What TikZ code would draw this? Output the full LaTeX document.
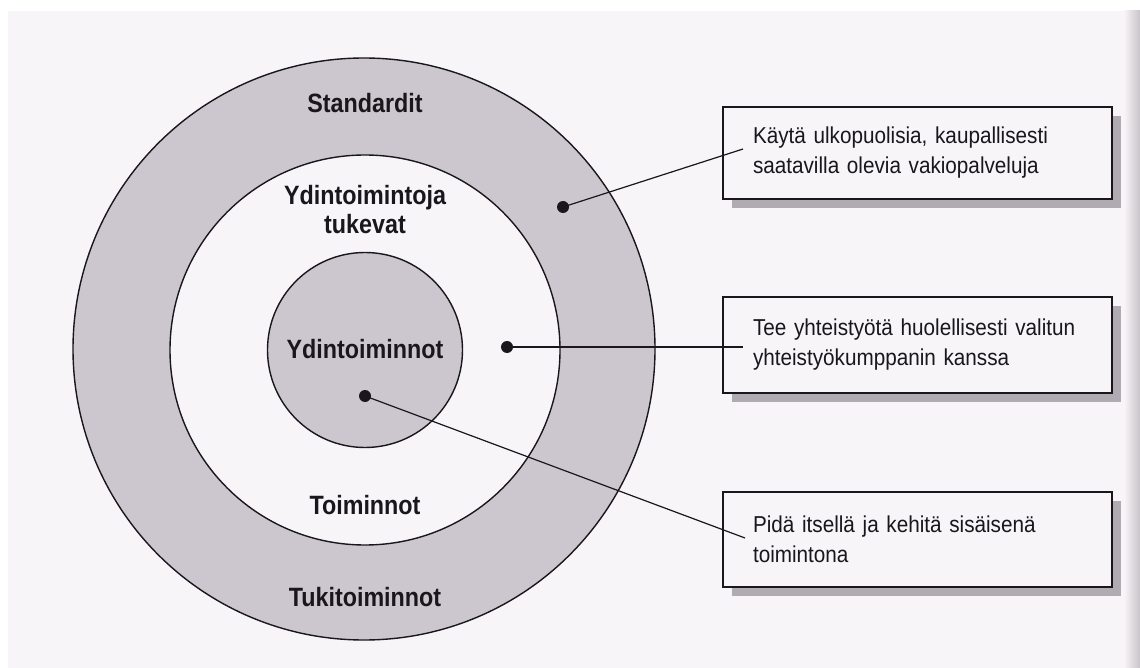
\documentclass[tikz,border=0pt]{standalone}
\usepackage{fontspec}
\setmainfont{Liberation Sans}
\newfontfamily\labelfont{Liberation Sans}[FakeStretch=0.88]
\newfontfamily\boxfont{Liberation Sans}[FakeStretch=0.9]
\usetikzlibrary{shadows}
\definecolor{paper}{RGB}{247,245,247}
\definecolor{ring}{RGB}{204,199,207}
\definecolor{shade}{RGB}{176,170,178}
\definecolor{ink}{RGB}{25,22,28}

\begin{document}
\begin{tikzpicture}[x=1pt,y=-1pt,
  ringfill/.style={circle, draw=ink, line width=1.4pt, inner sep=0pt},
  dot/.style={circle, fill=ink, inner sep=0pt, minimum size=12pt},
  lbl/.style={font=\labelfont\bfseries\fontsize{26.5}{29}\selectfont, text=ink,
    anchor=base, inner sep=0pt},
  infobox/.style={draw=ink, line width=1.2pt, fill=paper, minimum width=389pt,
    text width=329pt, inner xsep=30pt, align=left,
    font=\boxfont\fontsize{23}{30}\selectfont, text=ink,
    drop shadow={shadow xshift=9pt, shadow yshift=-9pt, fill=shade, opacity=1}},
  link/.style={draw=ink, line width=1.2pt}]

% page
\useasboundingbox (0,0) rectangle (1140,668);
\fill[paper] (0,0) rectangle (1140,668);
\fill[white] (0,0) rectangle (1140,11);
\fill[white] (0,0) rectangle (8,668);
\shade[left color=paper, right color=shade!70] (1124,11) rectangle (1140,668);

% concentric circles
\node[ringfill, fill=ring, minimum size=582pt] (outer) at (364,349) {};
\node[ringfill, fill=paper, minimum size=390pt] (middle) at (365,350) {};
\node[ringfill, fill=ring, minimum size=195pt] (inner) at (365,350) {};

% ring labels (placed on their baselines)
\node[lbl] (std) at (365,113) {Standardit};
\node[lbl] (supp) at (365,205) {Ydintoimintoja};
\node[lbl] (supp2) at (365,234) {tukevat};
\node[lbl] (core) at (365,358) {Ydintoiminnot};
\node[lbl] (ops) at (365,514) {Toiminnot};
\node[lbl] (supops) at (365,606) {Tukitoiminnot};

% explanation boxes
\node[infobox, minimum height=92pt] (b1) at (917.5,153)
  {Käytä ulkopuolisia, kaupallisesti\\saatavilla olevia vakiopalveluja};
\node[infobox, minimum height=96pt] (b2) at (917.5,345)
  {Tee yhteistyötä huolellisesti valitun\\yhteistyökumppanin kanssa};
\node[infobox, minimum height=95pt] (b3) at (917.5,539.5)
  {Pidä itsellä ja kehitä sisäisenä\\toimintona};

% markers and leader lines
\node[dot] (d1) at (563,207) {};
\node[dot] (d2) at (507,347) {};
\node[dot] (d3) at (365,396) {};
\coordinate (e1) at (743,149);
\coordinate (e2) at (743,347);
\coordinate (e3) at (745,538);
\draw[link] (d1.center) -- (e1);
\draw[link] (d2.center) -- (e2);
\draw[link] (d3.center) -- (e3);
\end{tikzpicture}
\end{document}
